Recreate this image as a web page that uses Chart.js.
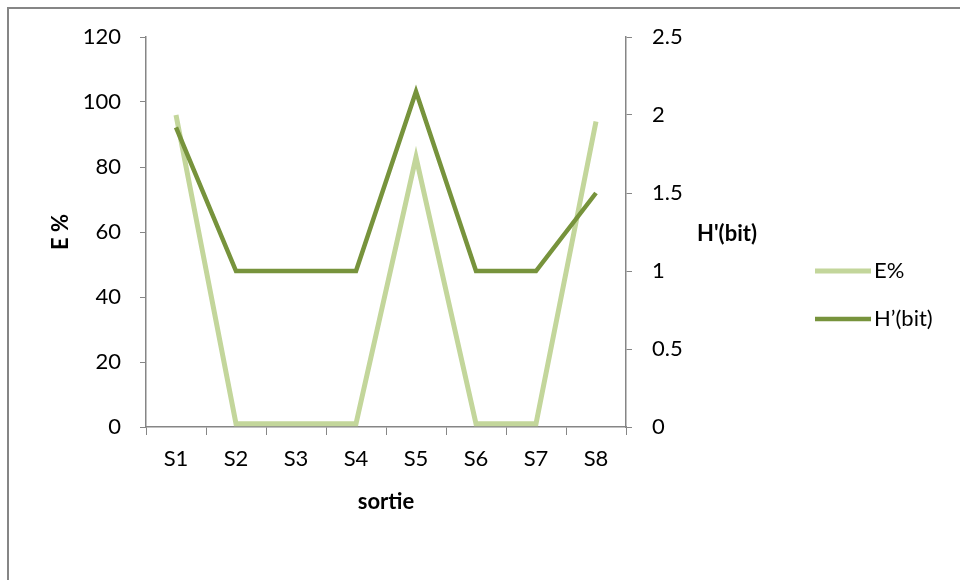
<!DOCTYPE html>
<html>
<head>
<meta charset="utf-8">
<script src="https://cdn.jsdelivr.net/npm/chart.js@4"></script>
<style>
  html, body { margin: 0; padding: 0; background: #fff; }
  #wrap { width: 960px; height: 580px; }
</style>
</head>
<body>
<div id="wrap"><canvas id="chart" width="960" height="580"></canvas></div>
<script>
// Data
const sorties = ['S1', 'S2', 'S3', 'S4', 'S5', 'S6', 'S7', 'S8'];
const equitability = [96, 1, 1, 1, 83, 1, 1, 94];
const shannon = [1.92, 1, 1, 1, 2.15, 1, 1, 1.5];
const leftTitle = 'E %';
const rightTitle = "H'(bit)";
const legendNames = ['E%', 'H\u2019(bit)'];

const lightGreen = '#c3d69b';
const darkGreen = '#77933c';
const axisGrey = '#868686';
const fontFamily = 'Lato, "Open Sans", sans-serif';
const fontSize = 22;

// frame, right axis title and legend drawn after the chart
const extras = {
    id: 'extras',
    afterDraw(chart) {
        const ctx = chart.ctx;
        ctx.save();
        ctx.strokeStyle = axisGrey;
        ctx.lineWidth = 2;
        ctx.strokeRect(8, 8, 1000, 1000);

        ctx.fillStyle = '#000';
        ctx.font = 'bold ' + fontSize + 'px ' + fontFamily;
        ctx.textBaseline = 'middle';
        ctx.textAlign = 'left';
        ctx.fillText(rightTitle, 697, 234);

        const colors = [lightGreen, darkGreen];
        const widths = [5, 4.5];
        const rows = [271, 319];
        ctx.font = fontSize + 'px ' + fontFamily;
        legendNames.forEach((name, i) => {
            ctx.strokeStyle = colors[i];
            ctx.lineWidth = widths[i];
            ctx.beginPath();
            ctx.moveTo(815, rows[i]);
            ctx.lineTo(871, rows[i]);
            ctx.stroke();
            ctx.fillStyle = '#000';
            ctx.fillText(name, 874, rows[i]);
        });
        ctx.restore();
    }
};

const ctx = document.getElementById('chart').getContext('2d');
const chart = new Chart(ctx, {
    type: 'line',
    data: {
        labels: sorties,
        datasets: [
            {
                label: legendNames[0],
                data: equitability,
                yAxisID: 'y',
                borderColor: lightGreen,
                borderWidth: 5,
                pointRadius: 0,
                tension: 0,
                order: 1
            },
            {
                label: legendNames[1],
                data: shannon,
                yAxisID: 'y1',
                borderColor: darkGreen,
                borderWidth: 4.5,
                pointRadius: 0,
                tension: 0,
                order: 0
            }
        ]
    },
    options: {
        responsive: false,
        animation: false,
        layout: {
            padding: { left: 48, right: 274, top: 37, bottom: 65 }
        },
        plugins: {
            legend: { display: false },
            tooltip: { enabled: false }
        },
        scales: {
            x: {
                offset: true,
                grid: {
                    offset: true,
                    drawOnChartArea: false,
                    tickLength: 8,
                    color: axisGrey
                },
                border: { color: axisGrey, width: 1.5 },
                ticks: {
                    color: '#000',
                    padding: 11,
                    font: { family: fontFamily, size: fontSize }
                },
                title: {
                    display: true,
                    text: 'sortie',
                    color: '#000',
                    padding: 0,
                    font: { family: fontFamily, size: fontSize, weight: 'bold' }
                },
                afterFit(scale) { scale.height = 88; }
            },
            y: {
                position: 'left',
                min: 0,
                max: 120,
                ticks: {
                    stepSize: 20,
                    color: '#000',
                    padding: 19,
                    font: { family: fontFamily, size: fontSize }
                },
                grid: {
                    drawOnChartArea: false,
                    tickLength: 6,
                    color: axisGrey
                },
                border: { color: axisGrey, width: 1.5 },
                title: {
                    display: true,
                    text: leftTitle,
                    color: '#000',
                    padding: 0,
                    font: { family: fontFamily, size: fontSize, weight: 'bold' }
                },
                afterFit(scale) { scale.width = 98; }
            },
            y1: {
                position: 'right',
                min: 0,
                max: 2.5,
                ticks: {
                    stepSize: 0.5,
                    color: '#000',
                    padding: 20,
                    font: { family: fontFamily, size: fontSize },
                    callback: v => String(Math.round(v * 10) / 10)
                },
                grid: {
                    drawOnChartArea: false,
                    tickLength: 6,
                    color: axisGrey
                },
                border: { color: axisGrey, width: 1.5 },
                afterFit(scale) { scale.width = 60; }
            }
        }
    },
    plugins: [extras]
});
</script>
</body>
</html>
